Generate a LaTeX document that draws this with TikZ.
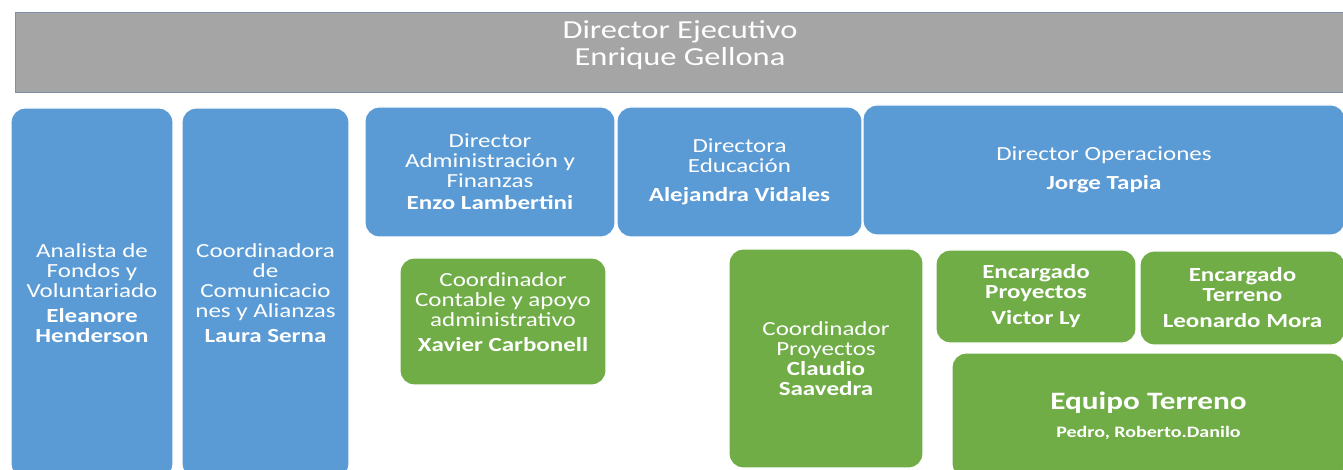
\documentclass[tikz,border=0pt]{standalone}
\usepackage{fontspec}
\setmainfont{Carlito}[FakeStretch=1.25]

\definecolor{azulbox}{RGB}{91,155,213}
\definecolor{verdebox}{RGB}{112,173,71}
\definecolor{grisbox}{RGB}{165,165,165}
\definecolor{bordegris}{RGB}{125,145,170}

\begin{document}
\begin{tikzpicture}[x=1pt,y=-1pt,
  box/.style={rounded corners=14pt, draw=white, line width=1.2pt, text=white, align=center, inner sep=2pt, font=\fontsize{20}{20}\selectfont},
  blubox/.style={box, fill=azulbox},
  grnbox/.style={box, fill=verdebox}]
\useasboundingbox (0,0) rectangle (1343,470);
\clip (0,0) rectangle (1343,470);

% director ejecutivo
\path
(680,53) node[fill=grisbox, draw=bordegris, line width=1pt, minimum width=1330pt, minimum height=80pt,
  label={[text=white, align=center, font=\fontsize{26}{27}\selectfont, yshift=8pt]center:{Director Ejecutivo\\Enrique Gellona}}] (dirEjec) {};

% columna azul
\path
(92,293)     node[blubox, minimum width=162pt, minimum height=370pt] (analista) {Analista de\\Fondos y\\Voluntariado\\[5pt]\textbf{Eleanore}\\\textbf{Henderson}}
(265.5,293)  node[blubox, minimum width=167pt, minimum height=370pt] (coordCom) {Coordinadora\\de\\Comunicacio\\nes y Alianzas\\[5pt]\textbf{Laura Serna}}
(490,172)    node[blubox, minimum width=250pt, minimum height=130pt] (dirAdm) {Director\\Administración y\\Finanzas\\[2pt]\textbf{Enzo Lambertini}}
(739.5,172)  node[blubox, minimum width=245pt, minimum height=130pt] (dirEdu) {Directora\\Educación\\[9pt]\textbf{Alejandra Vidales}}
(1104,170)   node[blubox, minimum width=482pt, minimum height=130pt] (dirOps) {Director Operaciones\\[9pt]\textbf{Jorge Tapia}};

% coordinadores y equipos
\path
(503,321.5)  node[grnbox, minimum width=206pt, minimum height=127pt,
  label={[text=white, align=center, font=\fontsize{20}{20}\selectfont, yshift=9pt]center:{Coordinador\\Contable y apoyo\\administrativo\\[5pt]\textbf{Xavier Carbonell}}}] (coordCont) {}
(826,358.5)  node[grnbox, minimum width=194pt, minimum height=219pt] (coordProy) {Coordinador\\Proyectos\\\textbf{Claudio}\\\textbf{Saavedra}}
(1036,296.5) node[grnbox, minimum width=200pt, minimum height=93pt] (encProy) {\textbf{Encargado}\\\textbf{Proyectos}\\[6pt]\textbf{Victor Ly}}
(1242.5,298) node[grnbox, minimum width=205pt, minimum height=94pt] (encTer) {\textbf{Encargado}\\\textbf{Terreno}\\[6pt]\textbf{Leonardo Mora}}
(1148.5,415.5) node[grnbox, minimum width=393pt, minimum height=125pt] (equipo) {\fontsize{25}{25}\selectfont\textbf{Equipo Terreno}\\[8pt]\fontsize{16}{16}\selectfont\textbf{Pedro, Roberto.Danilo}};

\end{tikzpicture}
\end{document}
